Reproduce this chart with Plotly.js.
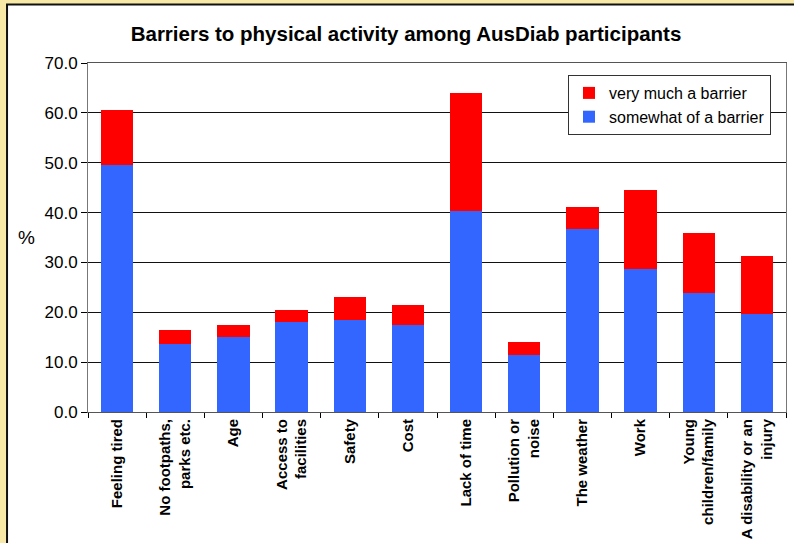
<!DOCTYPE html>
<html>
<head>
<meta charset="utf-8">
<script src="https://cdn.plot.ly/plotly-3.0.1.min.js"></script>
<style>
html,body{margin:0;padding:0;background:#F8EAA6;}
#chart{width:794px;height:543px;}
</style>
</head>
<body>
<div id="chart"></div>
<script>
const categories = [
  "Feeling tired",
  "No footpaths,<br>parks etc.",
  "Age",
  "Access to<br>facilities",
  "Safety",
  "Cost",
  "Lack of time",
  "Pollution or<br>noise",
  "The weather",
  "Work",
  "Young<br>children/family",
  "A disability or an<br>injury"
];
const somewhat = [49.6, 13.6, 15.1, 18.1, 18.5, 17.5, 40.4, 11.4, 36.7, 28.7, 23.9, 19.7];
const veryMuch = [11.0, 2.9, 2.4, 2.3, 4.5, 3.9, 23.6, 2.7, 4.5, 15.9, 12.0, 11.5];

const FONT = "Arial, 'Liberation Sans', sans-serif";

const traces = [
  {type: "bar", name: "somewhat of a barrier", x: categories, y: somewhat,
   marker: {color: "#3366FF"}, hoverinfo: "y"},
  {type: "bar", name: "very much a barrier", x: categories, y: veryMuch,
   marker: {color: "#FF0000"}, hoverinfo: "y"}
];

const layout = {
  width: 794, height: 543,
  margin: {l: 88, r: 8, t: 63, b: 131, pad: 0},
  paper_bgcolor: "#F8EAA6",
  plot_bgcolor: "#CCFFFF",
  barmode: "stack",
  bargap: 0.445,
  font: {family: FONT, color: "#000"},
  title: {text: "<b>Barriers to physical activity among AusDiab participants</b>",
          font: {family: FONT, size: 20.5, color: "#000"},
          x: 0.4556, xref: "paper", xanchor: "center", y: 0.937, yref: "container", yanchor: "middle"},
  xaxis: {
    type: "category",
    tickangle: -90,
    tickfont: {family: FONT, size: 15, color: "#000", weight: "bold"},
    ticks: "outside", ticklen: 5, tickcolor: "#000", tickson: "boundaries",
    showline: true, linecolor: "#555", linewidth: 1, mirror: true,
    showgrid: false, fixedrange: true
  },
  yaxis: {
    range: [0, 70], dtick: 10, tickformat: ".1f",
    tickfont: {family: FONT, size: 17, color: "#000"},
    ticks: "outside", ticklen: 6, tickcolor: "#000",
    showline: true, linecolor: "#777", linewidth: 1, mirror: true,
    showgrid: true, gridcolor: "#111", gridwidth: 1,
    zeroline: false, fixedrange: true
  },
  legend: {
    x: 0.9785, y: 0.9656, xanchor: "right", yanchor: "top",
    bgcolor: "#FFFFFF", bordercolor: "#333", borderwidth: 1,
    font: {family: FONT, size: 16, color: "#000"},
    traceorder: "reversed", tracegroupgap: 0, itemwidth: 30
  },
  shapes: [
    {type: "rect", xref: "paper", yref: "paper", x0: -0.116, x1: 1.2, y0: -0.6, y1: 1.1676,
     fillcolor: "#FFFFFF", line: {color: "#111", width: 2}, layer: "below"}
  ],
  annotations: [
    {text: "%", xref: "paper", yref: "paper", x: -0.0888, y: 0.501, showarrow: false,
     font: {family: FONT, size: 19, color: "#000"}, xanchor: "center", yanchor: "middle"}
  ],
  showlegend: true
};

Plotly.newPlot("chart", traces, layout, {displayModeBar: false, staticPlot: true});
</script>
</body>
</html>
